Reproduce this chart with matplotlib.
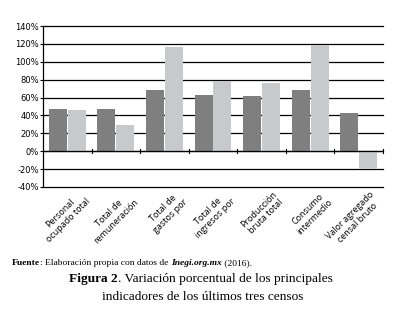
import matplotlib.pyplot as plt
import numpy as np
from matplotlib.ticker import FuncFormatter, MultipleLocator

categorias = [
    "Personal\nocupado total",
    "Total de\nremuneración",
    "Total de\ngastos por",
    "Total de\ningresos por",
    "Producción\nbruta total",
    "Consumo\nintermedio",
    "Valor agregado\ncensal bruto",
]
serie_a = [47, 47, 69, 63, 62, 69, 43]
serie_b = [46, 29, 117, 79, 76, 119, -20]

oscuro = "#7f7f80"
claro = "#c8c9ca"

fig = plt.figure(figsize=(3.96, 3.19), dpi=100)
ax = fig.add_axes([43 / 396, 1 - 187 / 319, 340 / 396, 161 / 319])

x = np.arange(len(categorias))
w = 0.37
ax.bar(x - w / 2 - 0.01, serie_a, w, color=oscuro, zorder=3)
ax.bar(x + w / 2 + 0.01, serie_b, w, color=claro, zorder=3)

ax.set_xlim(-0.5, len(categorias) - 0.5)
ax.set_ylim(-40, 140)
ax.yaxis.set_major_locator(MultipleLocator(20))
ax.yaxis.set_major_formatter(FuncFormatter(lambda v, p: f"{v:.0f}%"))
ax.tick_params(axis="y", length=2, width=0.8, labelsize=6, pad=1, colors="black")
for v in range(-40, 141, 20):
    ax.axhline(v, color="black", linewidth=0.9, zorder=1, clip_on=False)
for s in ["top", "right", "bottom"]:
    ax.spines[s].set_visible(False)
ax.spines["left"].set_linewidth(0.9)

# eje horizontal en 0 con marcas entre categorias
ax.axhline(0, color="black", linewidth=0.9, zorder=4)
ax.set_xticks([])
for b in np.arange(0.5, len(categorias), 1.0):
    ax.plot([b, b], [-2.2, 2.2], color="black", linewidth=0.8, zorder=4, clip_on=False)

for i, c in enumerate(categorias):
    ax.text(i + 0.22, -43, c, rotation=45, ha="right", va="top", fontsize=6.5,
            rotation_mode="anchor", multialignment="center", family="Open Sans")


def texto_seguido(x0, y0, partes, size):
    # coloca trozos de texto uno tras otro en la misma linea
    r = fig.canvas.get_renderer()
    xx = x0
    for s, kw in partes:
        t = fig.text(xx, y0, s, fontsize=size, family="Liberation Serif", va="center", **kw)
        bb = t.get_window_extent(renderer=r)
        xx += bb.width / fig.bbox.width


texto_seguido(12 / 396, 1 - 263 / 319, [
    ("Fuente", {"fontweight": "bold"}),
    (": Elaboración propia con datos de ", {}),
    ("Inegi.org.mx", {"style": "italic", "fontweight": "bold"}),
    (" (2016).", {}),
], 6.8)
texto_seguido(69 / 396, 1 - 279 / 319, [
    ("Figura 2", {"fontweight": "bold"}),
    (". Variación porcentual de los principales", {}),
], 9.6)
fig.text(203 / 396, 1 - 297 / 319, "indicadores de los últimos tres censos",
         fontsize=9.6, family="Liberation Serif", va="center", ha="center")

fig.savefig("out.png", dpi=100)
